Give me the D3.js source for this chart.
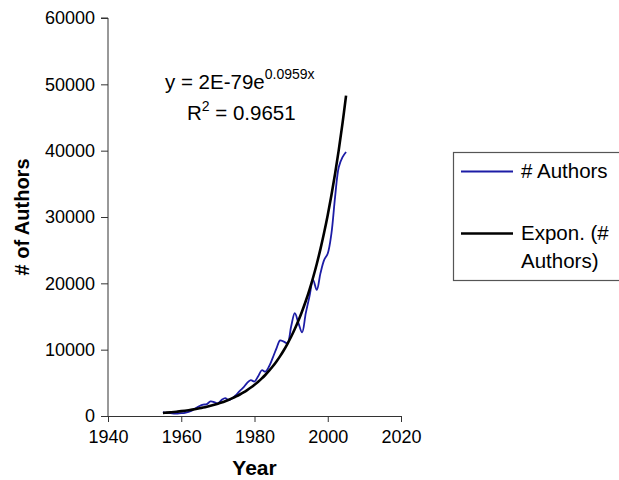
<!DOCTYPE html>
<html>
<head>
<meta charset="utf-8">
<script src="https://cdn.jsdelivr.net/npm/d3@7"></script>
<style>
  body { margin: 0; background: #fff; }
  text { font-family: Arial, "Liberation Sans", sans-serif; fill: #000; }
</style>
</head>
<body>
<svg id="chart"></svg>
<script>
// data
let years = [1955, 1956, 1957, 1958, 1959, 1960, 1961, 1962, 1963, 1964,
             1965, 1966, 1967, 1968, 1969, 1970, 1971, 1972, 1973, 1974,
             1975, 1976, 1977, 1978, 1979, 1980, 1981, 1982, 1983, 1984,
             1985, 1986, 1987, 1988, 1989, 1990, 1991, 1992, 1993, 1994,
             1995, 1996, 1997, 1998, 1999, 2000, 2001, 2002, 2003, 2004, 2005];
let authors = [600, 500, 420, 380, 380, 420, 480, 620, 850, 1200,
               1500, 1700, 1800, 2200, 2100, 1900, 2400, 2700, 2400, 2700,
               3200, 3800, 4300, 5000, 5400, 5200, 6000, 6900, 6700, 7500,
               8800, 10200, 11400, 11200, 11000, 13500, 15500, 14000, 12600, 15500,
               18000, 20500, 19000, 21500, 23500, 24500, 27500, 33000, 37500, 39000, 39800];
let xTicks = [1940, 1960, 1980, 2000, 2020];
let yTicks = [0, 10000, 20000, 30000, 40000, 50000, 60000];
let legendLabels = ["# Authors", "Expon. (#", "Authors)"];

/***************************/

let width = 619, height = 480;
let plot = {left: 108, right: 401, top: 18, bottom: 416};

let svg = d3.select("#chart")
            .attr("width", width)
            .attr("height", height);

let xScale = d3.scaleLinear().domain([1940, 2020]).range([plot.left, plot.right]);
let yScale = d3.scaleLinear().domain([0, 60000]).range([plot.bottom, plot.top]);

// exponential trend: least squares on ln(y), like excel does
let mx = d3.mean(years), my = d3.mean(authors, d => Math.log(d));
let sxy = d3.sum(years, (x, i) => (x - mx) * (Math.log(authors[i]) - my));
let sxx = d3.sum(years, x => (x - mx) * (x - mx));
let b = sxy / sxx;
let lnA = my - b * mx;
let trend = years.map(x => Math.exp(lnA + b * x));

let xAxis = d3.axisBottom(xScale).tickValues(xTicks).tickSize(6).tickPadding(8).tickFormat(d3.format("d"));
let yAxis = d3.axisLeft(yScale).tickValues(yTicks).tickSize(7).tickPadding(6).tickFormat(d3.format("d"));

svg.append("g")
   .attr("transform", `translate(0, ${plot.bottom})`)
   .call(xAxis)
   .call(g => g.selectAll("text").attr("font-size", 18).attr("font-family", null).attr("fill", "#000"))
   .call(g => g.selectAll("line, path").attr("stroke", "#333"));

svg.append("g")
   .attr("transform", `translate(${plot.left}, 0)`)
   .call(yAxis)
   .call(g => g.select(".domain").attr("d", `M-7,${plot.top}H0V${plot.bottom}`))
   .call(g => g.selectAll("text").attr("font-size", 18).attr("font-family", null).attr("fill", "#000"))
   .call(g => g.selectAll("line, path").attr("stroke", "#333"));

let line = d3.line()
             .x((d, i) => xScale(years[i]))
             .y(d => yScale(d))
             .curve(d3.curveCatmullRom.alpha(0.5));

svg.append("path")
   .datum(authors)
   .attr("d", line)
   .attr("fill", "none")
   .attr("stroke", "#1c1ca6")
   .attr("stroke-width", 1.8);

svg.append("path")
   .datum(trend)
   .attr("d", line)
   .attr("fill", "none")
   .attr("stroke", "#000")
   .attr("stroke-width", 2.6);

// axis titles
svg.append("text")
   .attr("x", (plot.left + plot.right) / 2)
   .attr("y", 475)
   .attr("text-anchor", "middle")
   .attr("font-size", 21)
   .attr("font-weight", "bold")
   .text("Year");

svg.append("text")
   .attr("transform", "translate(29, 217) rotate(-90)")
   .attr("text-anchor", "middle")
   .attr("font-size", 20)
   .attr("font-weight", "bold")
   .text("# of Authors");

// trendline equation
let eq = svg.append("text").attr("x", 165).attr("y", 89).attr("font-size", 20.5);
eq.append("tspan").text("y = 2E-79e");
eq.append("tspan").attr("dy", -10).attr("font-size", 14).text("0.0959x");

let r2 = svg.append("text").attr("x", 187).attr("y", 120).attr("font-size", 20.5);
r2.append("tspan").text("R");
r2.append("tspan").attr("dy", -9).attr("font-size", 14).text("2");
r2.append("tspan").attr("dy", 9).text(" = 0.9651");

// legend
let legend = svg.append("g");
legend.append("rect")
      .attr("x", 453.5).attr("y", 152.5)
      .attr("width", 180).attr("height", 128)
      .attr("fill", "#fff")
      .attr("stroke", "#555")
      .attr("stroke-width", 1.2);

legend.append("line")
      .attr("x1", 461).attr("x2", 513).attr("y1", 171.5).attr("y2", 171.5)
      .attr("stroke", "#1c1ca6").attr("stroke-width", 1.8);
legend.append("line")
      .attr("x1", 461).attr("x2", 513).attr("y1", 233.5).attr("y2", 233.5)
      .attr("stroke", "#000").attr("stroke-width", 2.6);

legend.append("text").attr("x", 521).attr("y", 178).attr("font-size", 20.5).text(legendLabels[0]);
legend.append("text").attr("x", 521).attr("y", 240).attr("font-size", 20.5).text(legendLabels[1]);
legend.append("text").attr("x", 521).attr("y", 268).attr("font-size", 20.5).text(legendLabels[2]);
</script>
</body>
</html>
